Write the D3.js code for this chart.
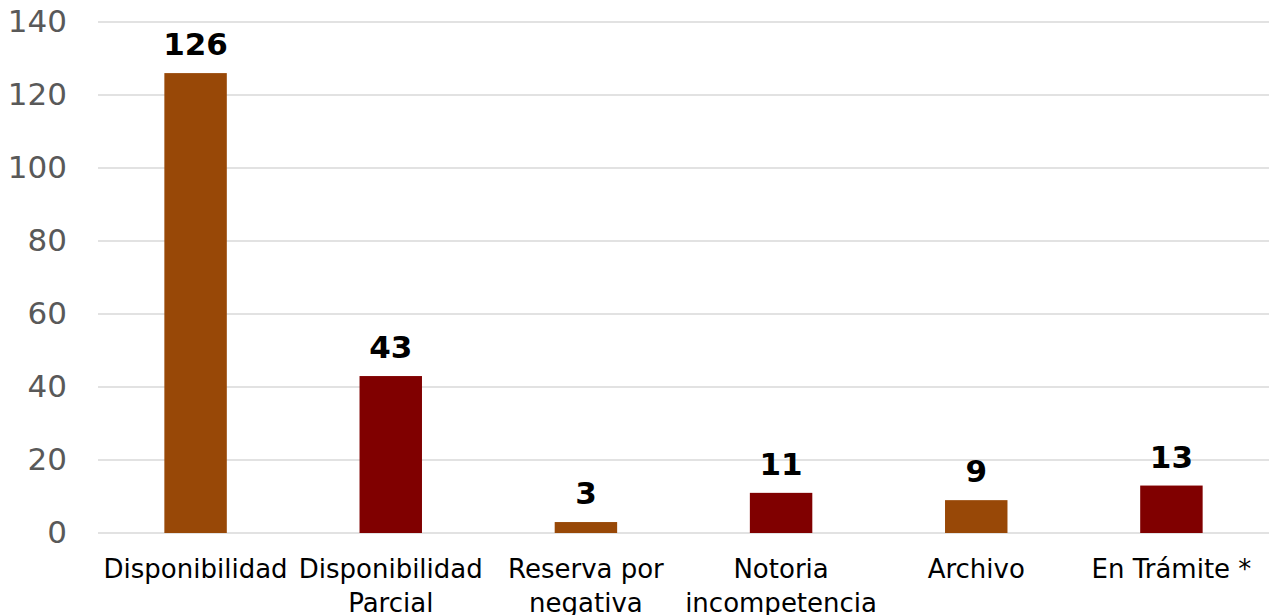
<!DOCTYPE html>
<html>
<head>
<meta charset="utf-8">
<script src="https://cdn.jsdelivr.net/npm/d3@7"></script>
<style>
  body { margin: 0; background: #fff; }
  svg { display: block; font-family: "DejaVu Sans", Verdana, sans-serif; }
</style>
</head>
<body>
<svg id="chart" width="1275" height="615"></svg>
<script>
// Chart data
var categories = ["Disponibilidad", "Disponibilidad\nParcial", "Reserva por\nnegativa", "Notoria\nincompetencia", "Archivo", "En Trámite *"];
var values = [126, 43, 3, 11, 9, 13];
var yTicks = [0, 20, 40, 60, 80, 100, 120, 140];
var barColors = ["#984807", "#800000"];

var svg = d3.select("#chart");

// Plot area
var plot = {left: 98, right: 1269, top: 22, bottom: 533};

// Scales
var x = d3.scaleBand()
    .domain(categories)
    .range([plot.left, plot.right])
    .paddingInner(0.68)
    .paddingOuter(0.34);

var y = d3.scaleLinear()
    .domain([0, 140])
    .range([plot.bottom, plot.top]);

// Gridlines
svg.append("g")
    .selectAll("line")
    .data(yTicks)
    .enter()
    .append("line")
    .attr("x1", plot.left)
    .attr("x2", plot.right)
    .attr("y1", function(d) { return y(d); })
    .attr("y2", function(d) { return y(d); })
    .style("stroke", "#d9d9d9")
    .style("stroke-width", 1.5);

// Y axis labels
var yAxis = svg.append("g")
    .attr("transform", "translate(" + (plot.left - 31) + ",0)")
    .call(d3.axisLeft(y).tickValues(yTicks).tickSize(0).tickPadding(0));
yAxis.select(".domain").remove();
yAxis.selectAll("text")
    .style("font-family", "DejaVu Sans, Verdana, sans-serif")
    .style("font-size", "31px")
    .style("fill", "#595959");

// Bars
svg.selectAll(".bar")
    .data(values)
    .enter()
    .append("rect")
    .attr("class", "bar")
    .attr("x", function(d, i) { return x(categories[i]); })
    .attr("y", function(d) { return y(d); })
    .attr("width", x.bandwidth())
    .attr("height", function(d) { return y(0) - y(d); })
    .style("fill", function(d, i) { return barColors[i % 2]; });

// Data labels
svg.selectAll(".val")
    .data(values)
    .enter()
    .append("text")
    .attr("class", "val")
    .attr("x", function(d, i) { return x(categories[i]) + x.bandwidth() / 2; })
    .attr("y", function(d) { return y(d) - 18; })
    .attr("text-anchor", "middle")
    .style("font-size", "31px")
    .style("font-weight", "bold")
    .style("fill", "#000")
    .text(function(d) { return d; });

// Category labels (multi-line)
var cat = svg.selectAll(".cat")
    .data(categories)
    .enter()
    .append("text")
    .attr("class", "cat")
    .attr("x", function(d) { return x(d) + x.bandwidth() / 2; })
    .attr("y", 578)
    .attr("text-anchor", "middle")
    .style("font-size", "26px")
    .style("fill", "#000");

cat.each(function(d) {
    var t = d3.select(this);
    d.split("\n").forEach(function(line, i) {
        t.append("tspan")
            .attr("x", t.attr("x"))
            .attr("dy", i === 0 ? 0 : 34)
            .text(line);
    });
});
</script>
</body>
</html>
